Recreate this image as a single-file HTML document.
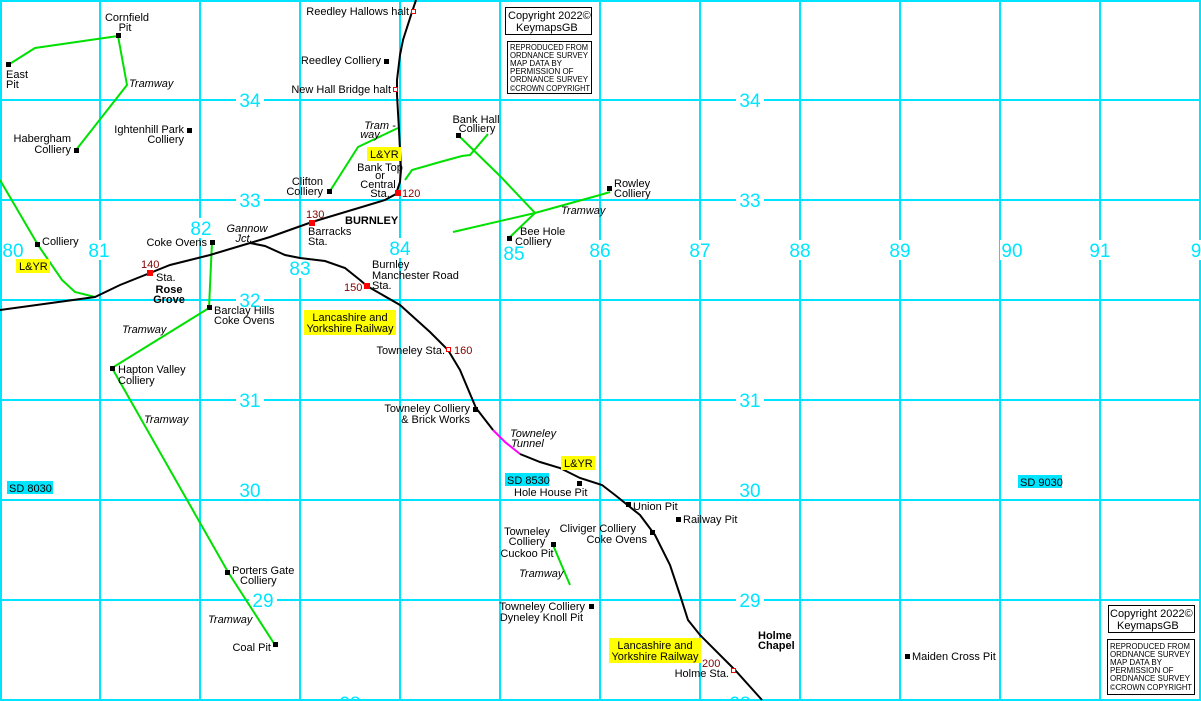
<!DOCTYPE html>
<html><head><meta charset="utf-8"><style>
html,body{margin:0;padding:0;background:#fff;}
svg{display:block;}
text{font-family:"Liberation Sans",sans-serif;font-size:11px;fill:#000;}
.g{font-size:19px;fill:#00e5ff;}
.r{fill:#800000;}
.i{font-style:italic;}
.b{font-weight:bold;}
.s{font-size:8px;}
</style></head><body>
<svg width="1201" height="701" viewBox="0 0 1201 701" xmlns="http://www.w3.org/2000/svg">
<rect width="1201" height="701" fill="#fff"/>
<g stroke="#00e5ff" stroke-width="2">
<line x1="1" y1="0" x2="1" y2="701"/><line x1="100" y1="0" x2="100" y2="701"/><line x1="200" y1="0" x2="200" y2="701"/><line x1="300" y1="0" x2="300" y2="701"/><line x1="400" y1="0" x2="400" y2="701"/><line x1="500" y1="0" x2="500" y2="701"/><line x1="600" y1="0" x2="600" y2="701"/><line x1="700" y1="0" x2="700" y2="701"/><line x1="800" y1="0" x2="800" y2="701"/><line x1="900" y1="0" x2="900" y2="701"/><line x1="1000" y1="0" x2="1000" y2="701"/><line x1="1100" y1="0" x2="1100" y2="701"/><line x1="1200" y1="0" x2="1200" y2="701"/>
<line x1="0" y1="1" x2="1201" y2="1"/><line x1="0" y1="100" x2="1201" y2="100"/><line x1="0" y1="200" x2="1201" y2="200"/><line x1="0" y1="300" x2="1201" y2="300"/><line x1="0" y1="400" x2="1201" y2="400"/><line x1="0" y1="500" x2="1201" y2="500"/><line x1="0" y1="600" x2="1201" y2="600"/><line x1="0" y1="700" x2="1201" y2="700"/>
</g>
<!-- grid labels -->
<g fill="#fff">
<rect x="236" y="90" width="28" height="20"/><rect x="736" y="90" width="28" height="20"/>
<rect x="236" y="190" width="28" height="20"/><rect x="736" y="190" width="28" height="20"/>
<rect x="236" y="290" width="28" height="20"/><rect x="236" y="390" width="28" height="20"/><rect x="736" y="390" width="28" height="20"/>
<rect x="249" y="590" width="28" height="20"/><rect x="736" y="590" width="28" height="20"/>
<rect x="2" y="240" width="24" height="20"/><rect x="87" y="240" width="24" height="20"/><rect x="189" y="218" width="24" height="20"/>
<rect x="288" y="258" width="24" height="20"/><rect x="388" y="238" width="24" height="20"/><rect x="502" y="243" width="24" height="20"/>
<rect x="588" y="240" width="24" height="20"/><rect x="688" y="240" width="24" height="20"/><rect x="788" y="240" width="24" height="20"/>
<rect x="888" y="240" width="24" height="20"/><rect x="1000" y="240" width="24" height="20"/><rect x="1088" y="240" width="24" height="20"/>
<rect x="1189" y="240" width="12" height="20"/>
</g>
<g text-anchor="middle">
<text class="g" x="250" y="107">34</text><text class="g" x="750" y="107">34</text>
<text class="g" x="250" y="207">33</text><text class="g" x="750" y="207">33</text>
<text class="g" x="250" y="307">32</text>
<text class="g" x="250" y="407">31</text><text class="g" x="750" y="407">31</text>
<text class="g" x="250" y="497">30</text><text class="g" x="750" y="497">30</text>
<text class="g" x="263" y="607">29</text><text class="g" x="750" y="607">29</text>
<text class="g" x="350" y="710">28</text><text class="g" x="740" y="710">28</text>
<text class="g" x="13" y="257">80</text><text class="g" x="99" y="257">81</text>
<text class="g" x="201" y="235">82</text><text class="g" x="300" y="275">83</text>
<text class="g" x="400" y="255">84</text><text class="g" x="514" y="260">85</text>
<text class="g" x="600" y="257">86</text><text class="g" x="700" y="257">87</text>
<text class="g" x="800" y="257">88</text><text class="g" x="900" y="257">89</text>
<text class="g" x="1012" y="257">90</text><text class="g" x="1100" y="257">91</text>
<text class="g" x="1196" y="257">9</text>
</g>
<!-- tramways -->
<g stroke="#00e000" stroke-width="2" fill="none">
<polyline points="8,65 35,48 118,36 127,85 76,150"/>
<polyline points="0,180 38,245 62,280 75,292 95,297"/>
<polyline points="212,242 209,308 112,368 228,572 275,645"/>
<polyline points="330,191 358,147 398,128"/>
<polyline points="405,180 412,170 440,162 462,156 470,155 488,134"/>
<polyline points="458,135 500,176 535,213 510,237"/>
<polyline points="453,232 535,213 600,195 610,192"/>
<polyline points="553,545 570,585"/>
</g>
<!-- railway -->
<g stroke="#000" stroke-width="2" fill="none">
<polyline points="416,0 412,12 403,40 400,55 397,80 397,95 399,130 401,170 400,182 396,194 385,200 312,222 270,237 250,243 210,255 170,265 150,273 120,285 95,297 0,310"/>
<polyline points="250,243 265,246 285,255 300,258 325,261 345,268 360,280 367,286 400,305 430,332 448,350 460,370 476,408 493,430"/>
<polyline points="520,454 540,462 560,468 580,478 602,485 615,495 640,515 655,535 670,565 680,595 688,620 700,635 735,670 762,700"/>
</g>
<polyline points="493,430 505,442 520,454" stroke="#ff00ff" stroke-width="2" fill="none"/>
<!-- stations -->
<g fill="#ff0000">
<rect x="395" y="190" width="6" height="6"/><rect x="309" y="220" width="6" height="6"/><rect x="147" y="270" width="6" height="6"/><rect x="364" y="283" width="6" height="6"/>
</g>
<g fill="#fff" stroke="#ff0000" stroke-width="1">
<rect x="411.5" y="9.5" width="4" height="4"/><rect x="393.5" y="87.5" width="4" height="4"/><rect x="446.5" y="347.5" width="4" height="4"/><rect x="731.5" y="668.5" width="4" height="4"/>
</g>
<!-- colliery markers -->
<g fill="#000">
<rect x="116" y="33" width="5" height="5"/><rect x="6" y="62" width="5" height="5"/><rect x="74" y="148" width="5" height="5"/><rect x="187" y="128" width="5" height="5"/>
<rect x="384" y="59" width="5" height="5"/><rect x="327" y="189" width="5" height="5"/><rect x="456" y="133" width="5" height="5"/><rect x="507" y="236" width="5" height="5"/>
<rect x="607" y="186" width="5" height="5"/><rect x="35" y="242" width="5" height="5"/><rect x="210" y="240" width="5" height="5"/><rect x="207" y="305" width="5" height="5"/>
<rect x="110" y="366" width="5" height="5"/><rect x="473" y="407" width="5" height="5"/><rect x="577" y="481" width="5" height="5"/><rect x="626" y="502" width="5" height="5"/>
<rect x="676" y="517" width="5" height="5"/><rect x="650" y="530" width="5" height="5"/><rect x="551" y="542" width="5" height="5"/><rect x="225" y="570" width="5" height="5"/>
<rect x="589" y="604" width="5" height="5"/><rect x="273" y="642" width="5" height="5"/><rect x="905" y="654" width="5" height="5"/>
</g>
<!-- yellow labels -->
<g fill="#ffff00">
<rect x="16" y="259" width="34" height="14"/><rect x="367" y="147" width="34" height="14"/><rect x="561" y="456" width="34" height="14"/>
<rect x="304" y="310" width="92" height="25"/><rect x="609" y="638" width="92" height="25"/>
</g>
<rect x="505" y="473" width="44" height="13" fill="#00e5ff"/><rect x="7" y="481" width="46" height="13" fill="#00e5ff"/><rect x="1018" y="475" width="44" height="13" fill="#00e5ff"/>
<text x="19" y="270">L&amp;YR</text><text x="370" y="158">L&amp;YR</text><text x="564" y="467">L&amp;YR</text>
<text x="350" y="321" text-anchor="middle">Lancashire and</text><text x="350" y="332" text-anchor="middle">Yorkshire Railway</text>
<text x="655" y="649" text-anchor="middle">Lancashire and</text><text x="655" y="660" text-anchor="middle">Yorkshire Railway</text>
<text x="507" y="484">SD 8530</text><text x="9" y="492">SD 8030</text><text x="1020" y="486">SD 9030</text>
<!-- copyright boxes -->
<g fill="none" stroke="#000" stroke-width="1">
<rect x="505.5" y="7.5" width="86" height="27"/><rect x="507.5" y="41.5" width="84" height="52"/>
<rect x="1108.5" y="605.5" width="86" height="27"/><rect x="1107.5" y="639.5" width="87" height="55"/>
</g>
<text x="508" y="19">Copyright 2022©</text><text x="516" y="31">KeymapsGB</text>
<g class="s">
<text class="s" x="510" y="50" textLength="78" lengthAdjust="spacingAndGlyphs">REPRODUCED FROM</text><text class="s" x="510" y="58" textLength="78" lengthAdjust="spacingAndGlyphs">ORDNANCE SURVEY</text><text class="s" x="510" y="66">MAP DATA BY</text><text class="s" x="510" y="74">PERMISSION OF</text><text class="s" x="510" y="82" textLength="78" lengthAdjust="spacingAndGlyphs">ORDNANCE SURVEY</text><text class="s" x="510" y="91" textLength="80" lengthAdjust="spacingAndGlyphs">©CROWN COPYRIGHT</text>
<text class="s" x="1110" y="649" textLength="80" lengthAdjust="spacingAndGlyphs">REPRODUCED FROM</text><text class="s" x="1110" y="657" textLength="80" lengthAdjust="spacingAndGlyphs">ORDNANCE SURVEY</text><text class="s" x="1110" y="665">MAP DATA BY</text><text class="s" x="1110" y="673">PERMISSION OF</text><text class="s" x="1110" y="681" textLength="80" lengthAdjust="spacingAndGlyphs">ORDNANCE SURVEY</text><text class="s" x="1110" y="690" textLength="82" lengthAdjust="spacingAndGlyphs">©CROWN COPYRIGHT</text>
</g>
<text x="1110" y="617">Copyright 2022©</text><text x="1117" y="629">KeymapsGB</text>
<!-- labels -->
<text x="127" y="21" text-anchor="middle">Cornfield</text><text x="125" y="31" text-anchor="middle">Pit</text>
<text x="6" y="78">East</text><text x="6" y="88">Pit</text>
<text class="i" x="129" y="87">Tramway</text>
<text x="71" y="142" text-anchor="end">Habergham</text><text x="71" y="153" text-anchor="end">Colliery</text>
<text x="184" y="133" text-anchor="end">Ightenhill Park</text><text x="184" y="143" text-anchor="end">Colliery</text>
<text x="409" y="15" text-anchor="end">Reedley Hallows halt</text>
<text x="381" y="64" text-anchor="end">Reedley Colliery</text>
<text x="391" y="93" text-anchor="end">New Hall Bridge halt</text>
<text class="i" x="380" y="129" text-anchor="middle">Tram -</text><text class="i" x="370" y="138" text-anchor="middle">way</text>
<text x="380" y="171" text-anchor="middle">Bank Top</text><text x="380" y="179" text-anchor="middle">or</text><text x="378" y="188" text-anchor="middle">Central</text><text x="380" y="197" text-anchor="middle">Sta.</text>
<text class="r" x="402" y="197">120</text>
<text x="323" y="185" text-anchor="end">Clifton</text><text x="323" y="195" text-anchor="end">Colliery</text>
<text x="476" y="123" text-anchor="middle">Bank Hall</text><text x="477" y="132" text-anchor="middle">Colliery</text>
<text x="614" y="187">Rowley</text><text x="614" y="197">Colliery</text>
<text class="i" x="561" y="214">Tramway</text>
<text x="520" y="235">Bee Hole</text><text x="515" y="245">Colliery</text>
<text class="r" x="306" y="218">130</text>
<text x="308" y="235">Barracks</text><text x="308" y="245">Sta.</text>
<text class="b" x="345" y="224">BURNLEY</text>
<text class="i" x="247" y="232" text-anchor="middle">Gannow</text><text class="i" x="244" y="242" text-anchor="middle">Jct.</text>
<text x="42" y="245">Colliery</text>
<text x="207" y="246" text-anchor="end">Coke Ovens</text>
<text class="r" x="141" y="268">140</text>
<text x="156" y="281">Sta.</text>
<text class="b" x="169" y="293" text-anchor="middle">Rose</text><text class="b" x="169" y="303" text-anchor="middle">Grove</text>
<text x="372" y="268">Burnley</text><text x="372" y="279">Manchester Road</text><text x="372" y="289">Sta.</text>
<text class="r" x="344" y="291">150</text>
<text x="214" y="314">Barclay Hills</text><text x="214" y="324">Coke Ovens</text>
<text class="i" x="122" y="333">Tramway</text>
<text x="445" y="354" text-anchor="end">Towneley Sta.</text><text class="r" x="454" y="354">160</text>
<text x="118" y="373">Hapton Valley</text><text x="118" y="384">Colliery</text>
<text class="i" x="144" y="423">Tramway</text>
<text x="470" y="412" text-anchor="end">Towneley Colliery</text><text x="470" y="423" text-anchor="end">&amp; Brick Works</text>
<text class="i" x="510" y="437">Towneley</text><text class="i" x="511" y="447">Tunnel</text>
<text x="514" y="496">Hole House Pit</text>
<text x="633" y="510">Union Pit</text>
<text x="683" y="523">Railway Pit</text>
<text x="636" y="532" text-anchor="end">Cliviger Colliery</text><text x="647" y="543" text-anchor="end">Coke Ovens</text>
<text x="527" y="535" text-anchor="middle">Towneley</text><text x="527" y="545" text-anchor="middle">Colliery</text><text x="527" y="557" text-anchor="middle">Cuckoo Pit</text>
<text class="i" x="519" y="577">Tramway</text>
<text x="232" y="574">Porters Gate</text><text x="240" y="584">Colliery</text>
<text x="585" y="610" text-anchor="end">Towneley Colliery</text><text x="583" y="621" text-anchor="end">Dyneley Knoll Pit</text>
<text class="i" x="208" y="623">Tramway</text>
<text x="271" y="651" text-anchor="end">Coal Pit</text>
<text class="b" x="758" y="639">Holme</text><text class="b" x="758" y="649">Chapel</text>
<text class="r" x="702" y="667">200</text>
<text x="729" y="677" text-anchor="end">Holme Sta.</text>
<text x="912" y="660">Maiden Cross Pit</text>
</svg>
</body></html>
